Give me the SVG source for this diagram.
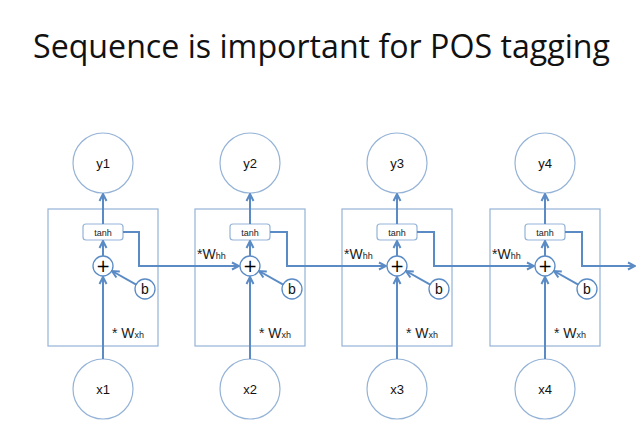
<svg xmlns="http://www.w3.org/2000/svg" width="641" height="446" viewBox="0 0 641 446">
<style>
.title{font-family:"Open Sans","Liberation Sans",sans-serif;font-size:33px;fill:#111;text-anchor:middle}
.lbl{font-family:"Liberation Sans","DejaVu Sans",sans-serif;font-size:13px;fill:#111;text-anchor:middle}
.plus{font-family:"DejaVu Sans","Liberation Sans",sans-serif;font-size:17px;fill:#000;text-anchor:middle}
.bl{font-family:"Liberation Sans","DejaVu Sans",sans-serif;font-size:14px;fill:#111;text-anchor:middle}
.small{font-family:"Liberation Sans","DejaVu Sans",sans-serif;font-size:9px;fill:#222;text-anchor:middle}
.w{font-family:"Liberation Sans","DejaVu Sans",sans-serif;font-size:14px;fill:#222}
.node{fill:#fff;stroke:#95B3D7;stroke-width:1.2}
.box{fill:none;stroke:#95B3D7;stroke-width:1.2}
.tanh{fill:#fff;stroke:#95B3D7;stroke-width:1.2}
.op{fill:#fff;stroke:#5B8BC5;stroke-width:1.3}
.edge{fill:none;stroke:#5B8BC5;stroke-width:2}
</style>
<defs>
<marker id="arr" markerUnits="userSpaceOnUse" markerWidth="10" markerHeight="10" viewBox="0 0 10 10" refX="9" refY="5" orient="auto">
<path d="M2,1.5 L9,5 L2,8.5" fill="none" stroke="#5B8BC5" stroke-width="2"/>
</marker>
</defs>
<rect width="641" height="446" fill="#fff"/>
<text class="title" x="321.5" y="58" textLength="577" lengthAdjust="spacingAndGlyphs">Sequence is important for POS tagging</text>

<g id="cell1">
<rect class="box" x="48" y="209" width="110" height="137"/>
<rect class="tanh" x="83" y="224" width="40" height="16" rx="3"/>
<text class="small" x="103" y="235.5">tanh</text>
<circle class="op" cx="103" cy="266" r="10"/>
<text class="plus" x="103" y="272">+</text>
<circle class="op" cx="145" cy="289" r="10"/>
<text class="bl" x="145" y="294">b</text>
<text class="w" x="112" y="338">* W<tspan style="font-size:9px">xh</tspan></text>
</g>
<g id="cell2">
<rect class="box" x="195" y="209" width="110" height="137"/>
<rect class="tanh" x="230" y="224" width="40" height="16" rx="3"/>
<text class="small" x="250" y="235.5">tanh</text>
<circle class="op" cx="250" cy="266" r="10"/>
<text class="plus" x="250" y="272">+</text>
<circle class="op" cx="292" cy="289" r="10"/>
<text class="bl" x="292" y="294">b</text>
<text class="w" x="259" y="338">* W<tspan style="font-size:9px">xh</tspan></text>
<text class="w" x="197" y="259">*W<tspan style="font-size:9px">hh</tspan></text>
</g>
<g id="cell3">
<rect class="box" x="342" y="209" width="110" height="137"/>
<rect class="tanh" x="377" y="224" width="40" height="16" rx="3"/>
<text class="small" x="397" y="235.5">tanh</text>
<circle class="op" cx="397" cy="266" r="10"/>
<text class="plus" x="397" y="272">+</text>
<circle class="op" cx="439" cy="289" r="10"/>
<text class="bl" x="439" y="294">b</text>
<text class="w" x="406" y="338">* W<tspan style="font-size:9px">xh</tspan></text>
<text class="w" x="344" y="259">*W<tspan style="font-size:9px">hh</tspan></text>
</g>
<g id="cell4">
<rect class="box" x="490" y="209" width="110" height="137"/>
<rect class="tanh" x="525" y="224" width="40" height="16" rx="3"/>
<text class="small" x="545" y="235.5">tanh</text>
<circle class="op" cx="545" cy="266" r="10"/>
<text class="plus" x="545" y="272">+</text>
<circle class="op" cx="587" cy="289" r="10"/>
<text class="bl" x="587" y="294">b</text>
<text class="w" x="554" y="338">* W<tspan style="font-size:9px">xh</tspan></text>
<text class="w" x="492" y="259">*W<tspan style="font-size:9px">hh</tspan></text>
</g>

<g id="y1"><circle class="node" cx="103" cy="163" r="30"/><text class="lbl" x="103" y="167.5">y1</text></g>
<g id="y2"><circle class="node" cx="250" cy="163" r="30"/><text class="lbl" x="250" y="167.5">y2</text></g>
<g id="y3"><circle class="node" cx="397" cy="163" r="30"/><text class="lbl" x="397" y="167.5">y3</text></g>
<g id="y4"><circle class="node" cx="545" cy="163" r="30"/><text class="lbl" x="545" y="167.5">y4</text></g>
<g id="x1"><circle class="node" cx="103" cy="389" r="30"/><text class="lbl" x="103" y="393.5">x1</text></g>
<g id="x2"><circle class="node" cx="250" cy="389" r="30"/><text class="lbl" x="250" y="393.5">x2</text></g>
<g id="x3"><circle class="node" cx="397" cy="389" r="30"/><text class="lbl" x="397" y="393.5">x3</text></g>
<g id="x4"><circle class="node" cx="545" cy="389" r="30"/><text class="lbl" x="545" y="393.5">x4</text></g>

<g id="connectors">
<path class="edge" d="M103,359 V277" marker-end="url(#arr)"/>
<path class="edge" d="M250,359 V277" marker-end="url(#arr)"/>
<path class="edge" d="M397,359 V277" marker-end="url(#arr)"/>
<path class="edge" d="M545,359 V277" marker-end="url(#arr)"/>
<path class="edge" d="M103,256 V241" marker-end="url(#arr)"/>
<path class="edge" d="M250,256 V241" marker-end="url(#arr)"/>
<path class="edge" d="M397,256 V241" marker-end="url(#arr)"/>
<path class="edge" d="M545,256 V241" marker-end="url(#arr)"/>
<path class="edge" d="M103,224 V194" marker-end="url(#arr)"/>
<path class="edge" d="M250,224 V194" marker-end="url(#arr)"/>
<path class="edge" d="M397,224 V194" marker-end="url(#arr)"/>
<path class="edge" d="M545,224 V194" marker-end="url(#arr)"/>
<path class="edge" d="M136.2,284.6 L112,271" marker-end="url(#arr)"/>
<path class="edge" d="M283.2,284.6 L259,271" marker-end="url(#arr)"/>
<path class="edge" d="M430.2,284.6 L406,271" marker-end="url(#arr)"/>
<path class="edge" d="M578.2,284.6 L554,271" marker-end="url(#arr)"/>
<path class="edge" d="M123,232 H139 V266 H239" marker-end="url(#arr)"/>
<path class="edge" d="M270,232 H287 V266 H386" marker-end="url(#arr)"/>
<path class="edge" d="M417,232 H434 V266 H534" marker-end="url(#arr)"/>
<path class="edge" d="M565,232 H582 V266 H635" marker-end="url(#arr)"/>
</g>
</svg>
